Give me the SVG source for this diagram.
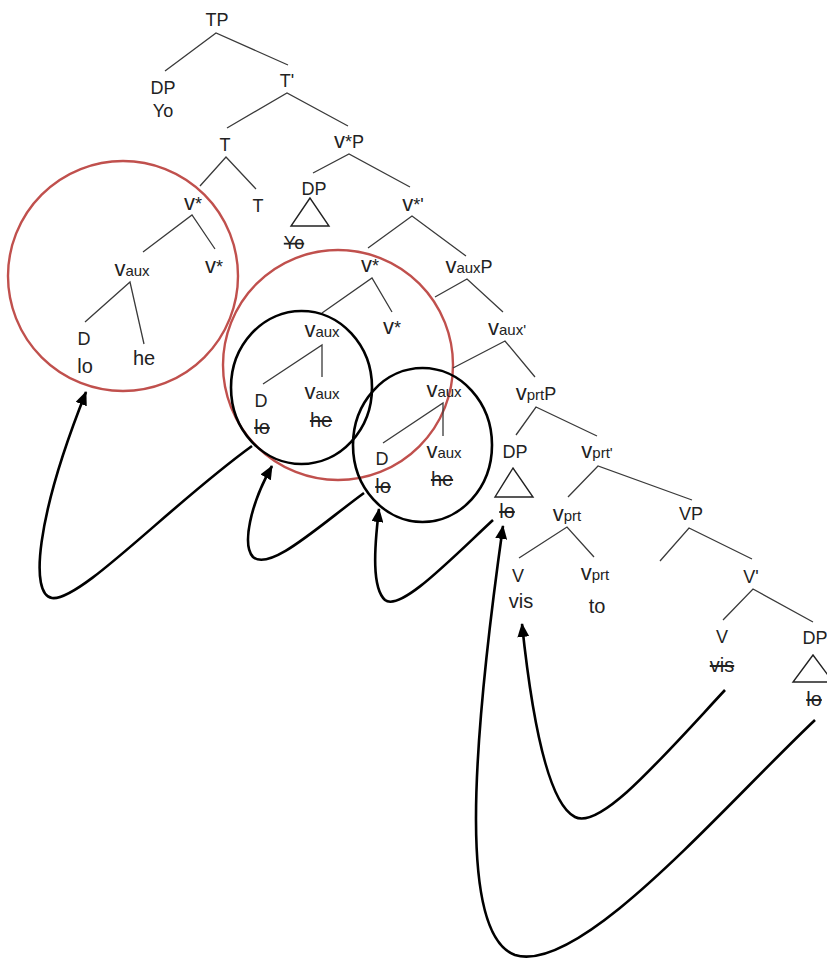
<svg xmlns="http://www.w3.org/2000/svg" width="827" height="960" viewBox="0 0 827 960">
<defs>
<style>
text{font-family:"Liberation Sans",Arial,sans-serif;font-size:18px;fill:#222;text-anchor:middle}
.v{font-size:22px}
.sub{font-size:15px}
.w{font-size:20px}
.st{text-decoration:line-through}
.e line,.e polyline{stroke:#3a3a3a;stroke-width:1.3;fill:none}
.tri{stroke:#222;stroke-width:1.4;fill:none}
.red{fill:none;stroke:#c0504d;stroke-width:2.4}
.blk{fill:none;stroke:#000;stroke-width:2.6}
.mv{fill:none;stroke:#000;stroke-width:2.6;marker-end:url(#ah)}
</style>
<marker id="ah" markerUnits="userSpaceOnUse" markerWidth="14" markerHeight="12" viewBox="0 0 14 12" refX="13" refY="6" orient="auto">
<path d="M0,0 L14,6 L0,12 Z" fill="#000"/>
</marker>
</defs>
<rect width="827" height="960" fill="#fff"/>

<g id="circles">
<circle class="red" cx="123" cy="276" r="115"/>
<circle class="red" cx="338" cy="365" r="115"/>
<ellipse class="blk" cx="301.5" cy="387.5" rx="70.5" ry="76.5"/>
<ellipse class="blk" cx="422.5" cy="445" rx="69.5" ry="77"/>
</g>

<g id="connectors" class="e">
<polyline points="165,71 216,33 288,65"/>
<polyline points="227,128 287,93 348,126"/>
<polyline points="200,186 226,157 256,189"/>
<polyline points="313,173 349,154 410,187"/>
<polyline points="368,248 412,216 466,256"/>
<polyline points="143,252 192,215 215,249"/>
<polyline points="85,322 130,282 144,344"/>
<polyline points="322,313 372,278 392,312"/>
<polyline points="435,297 467,279 503,312"/>
<polyline points="263,384 322,345 322,377"/>
<polyline points="453,368 505,341 535,377"/>
<polyline points="383,443 443,403 443,436"/>
<polyline points="516,435 536,407 597,436"/>
<polyline points="568,497 598,466 692,500"/>
<polyline points="519,558 567,527 594,557"/>
<polyline points="660,561 689,528 752,559"/>
<polyline points="723,620 753,589 813,622"/>
<g id="movement">
<path class="mv" d="M252,446 C170,505 80,602 52,598 C30,595 35,520 86,392"/>
<path class="mv" d="M364,493 C320,525 270,572 253,557 C242,545 250,505 272,466"/>
<path class="mv" d="M493,520 C450,560 400,612 385,600 C372,588 374,550 379,509"/>
<path class="mv" d="M815,720 C720,810 580,975 515,955 C460,935 470,760 503,526"/>
<path class="mv" d="M725,690 C660,760 600,830 575,817 C545,802 530,700 522,624"/>
</g>
</g>

<g id="n-TP"><text x="217" y="26">TP</text></g>
<g id="n-DP1"><text x="163" y="94">DP</text><text x="163" y="117">Yo</text></g>
<g id="n-Tbar"><text x="287" y="87">T'</text></g>
<g id="n-T"><text x="225" y="151">T</text></g>
<g id="n-vstarP"><text x="349" y="148"><tspan class="v">v</tspan>*P</text></g>
<g id="n-vstar1"><text x="193" y="210"><tspan class="v">v</tspan>*</text></g>
<g id="n-T2"><text x="258" y="212">T</text></g>
<g id="n-DP2"><text x="314" y="195">DP</text><polygon class="tri" points="310,198 291,226 329,226"/><text class="st" x="294" y="249">Yo</text></g>
<g id="n-vstarbar"><text x="413" y="211"><tspan class="v">v</tspan>*'</text></g>
<g id="n-vaux1"><text x="132" y="276"><tspan class="v">v</tspan><tspan class="sub">aux</tspan></text></g>
<g id="n-vstar2"><text x="214" y="273"><tspan class="v">v</tspan>*</text></g>
<g id="n-D1"><text x="84" y="345">D</text><text class="w" x="85" y="373">lo</text></g>
<g id="n-he1"><text class="w" x="144" y="365">he</text></g>
<g id="n-vstar3"><text x="370" y="272"><tspan class="v">v</tspan>*</text></g>
<g id="n-vauxP"><text x="469" y="273"><tspan class="v">v</tspan><tspan class="sub">aux</tspan>P</text></g>
<g id="n-vstar4"><text x="392" y="334"><tspan class="v">v</tspan>*</text></g>
<g id="n-vaux2"><text x="322" y="337"><tspan class="v">v</tspan><tspan class="sub">aux</tspan></text></g>
<g id="n-vauxbar"><text x="507" y="335"><tspan class="v">v</tspan><tspan class="sub">aux'</tspan></text></g>
<g id="n-D2"><text x="261" y="407">D</text><text class="w st" x="262" y="434">lo</text></g>
<g id="n-vaux3"><text x="322" y="399"><tspan class="v">v</tspan><tspan class="sub">aux</tspan></text><text class="w st" x="321" y="427">he</text></g>
<g id="n-vaux4"><text x="444" y="397"><tspan class="v">v</tspan><tspan class="sub">aux</tspan></text></g>
<g id="n-D3"><text x="382" y="465">D</text><text class="w st" x="383" y="493">lo</text></g>
<g id="n-vaux5"><text x="444" y="458"><tspan class="v">v</tspan><tspan class="sub">aux</tspan></text><text class="w st" x="442" y="486">he</text></g>
<g id="n-vprtP"><text x="536" y="400"><tspan class="v">v</tspan><tspan class="sub">prt</tspan>P</text></g>
<g id="n-DP3"><text x="515" y="458">DP</text><polygon class="tri" points="513,468 495,497 533,497"/><text class="w st" x="507" y="518">lo</text></g>
<g id="n-vprtbar"><text x="597" y="458"><tspan class="v">v</tspan><tspan class="sub">prt'</tspan></text></g>
<g id="n-vprt1"><text x="567" y="521"><tspan class="v">v</tspan><tspan class="sub">prt</tspan></text></g>
<g id="n-VP"><text x="691" y="520">VP</text></g>
<g id="n-V1"><text x="518" y="582">V</text><text class="w" x="521" y="608">vis</text></g>
<g id="n-vprt2"><text x="595" y="580"><tspan class="v">v</tspan><tspan class="sub">prt</tspan></text><text class="w" x="597" y="613">to</text></g>
<g id="n-Vbar"><text x="751" y="583">V'</text></g>
<g id="n-V2"><text x="722" y="643">V</text><text class="w st" x="722" y="672">vis</text></g>
<g id="n-DP4"><text x="815" y="644">DP</text><polygon class="tri" points="813,655 793,682 833,682"/><text class="w st" x="814" y="706">lo</text></g>
</svg>
